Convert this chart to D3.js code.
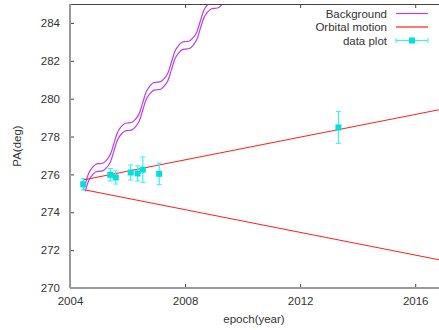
<!DOCTYPE html>
<html>
<head>
<meta charset="utf-8">
<script src="https://cdn.jsdelivr.net/npm/d3@7"></script>
<style>
  body { margin: 0; background: #fff; }
  svg text { font-family: "Liberation Sans", Arial, sans-serif; fill: #333; }
</style>
</head>
<body>
<svg id="chart"></svg>
<script>
// observations (epoch, position angle, error)
var obsYear = [2004.46, 2005.40, 2005.59, 2006.11, 2006.35, 2006.53, 2007.10, 2013.33];
var obsPA   = [275.48, 275.98, 275.84, 276.10, 276.05, 276.25, 276.03, 278.48];
var obsErr  = [0.30, 0.33, 0.35, 0.40, 0.40, 0.67, 0.57, 0.84];

// orbital motion limits (straight lines)
var orbitUpper = [[2004.45, 275.70], [2017, 279.47]];
var orbitLower = [[2004.45, 275.20], [2017, 271.44]];

// background-star tracks
var bgYears1 = [2004.46, 2004.53, 2004.655, 2004.78, 2004.905, 2005.03, 2005.155, 2005.28, 2005.405,
  2005.53, 2005.655, 2005.78, 2005.905, 2006.03, 2006.155, 2006.28, 2006.405, 2006.53, 2006.655,
  2006.78, 2006.905, 2007.03, 2007.155, 2007.28, 2007.405, 2007.53, 2007.655, 2007.78, 2007.905,
  2008.03, 2008.155, 2008.28, 2008.405, 2008.53, 2008.655, 2008.78, 2008.905, 2009.03];
var bgPA1 = [275.20, 275.50, 276.08, 276.37, 276.54, 276.57, 276.60, 276.77, 277.06,
  277.65, 278.23, 278.52, 278.69, 278.72, 278.75, 278.92, 279.21, 279.80, 280.38,
  280.67, 280.84, 280.87, 280.90, 281.07, 281.36, 281.95, 282.53, 282.82, 282.99,
  283.02, 283.05, 283.22, 283.51, 284.10, 284.68, 284.97, 285.14, 285.17];

var bgYears2 = [2004.53, 2004.655, 2004.78, 2004.905, 2005.03, 2005.155, 2005.28, 2005.405,
  2005.53, 2005.655, 2005.78, 2005.905, 2006.03, 2006.155, 2006.28, 2006.405, 2006.53, 2006.655,
  2006.78, 2006.905, 2007.03, 2007.155, 2007.28, 2007.405, 2007.53, 2007.655, 2007.78, 2007.905,
  2008.03, 2008.155, 2008.28, 2008.405, 2008.53, 2008.655, 2008.78, 2008.905, 2009.03, 2009.155,
  2009.28, 2009.405, 2009.53];
var bgPA2 = [275.10, 275.68, 275.97, 276.14, 276.17, 276.20, 276.37, 276.66,
  277.25, 277.83, 278.12, 278.29, 278.32, 278.35, 278.52, 278.81, 279.40, 279.98,
  280.27, 280.44, 280.47, 280.50, 280.67, 280.96, 281.55, 282.13, 282.42, 282.59,
  282.62, 282.65, 282.82, 283.11, 283.70, 284.28, 284.57, 284.74, 284.77, 284.80,
  284.97, 285.26, 285.85];

var xTicks = [2004, 2008, 2012, 2016];
var yTicks = [270, 272, 274, 276, 278, 280, 282, 284];

var width = 439, height = 330;
var plotLeft = 70, plotTop = 4, plotRight = 444, plotBottom = 288;

var purple = "#b93cf5", red = "#ff2020", cyan = "#00dede", cyanBar = "#3cf0f0";

var svg = d3.select("#chart").attr("width", width).attr("height", height);

var x = d3.scaleLinear().domain([2004, 2017]).range([plotLeft, plotRight]);
var y = d3.scaleLinear().domain([270, 285]).range([plotBottom, plotTop]);

svg.append("clipPath").attr("id", "plotclip")
    .append("rect")
    .attr("x", plotLeft).attr("y", plotTop)
    .attr("width", plotRight - plotLeft).attr("height", plotBottom - plotTop);

var plot = svg.append("g").attr("clip-path", "url(#plotclip)");

var line = d3.line().x(d => x(d[0])).y(d => y(d[1]));
var smooth = d3.line().x(d => x(d[0])).y(d => y(d[1])).curve(d3.curveCatmullRom);

// background tracks
[[bgYears1, bgPA1], [bgYears2, bgPA2]].forEach(function (s) {
    plot.append("path")
        .attr("d", smooth(s[0].map((t, i) => [t, s[1][i]])))
        .attr("fill", "none")
        .attr("stroke", purple)
        .attr("stroke-width", 1.2);
});

// orbital motion
[orbitUpper, orbitLower].forEach(function (s) {
    plot.append("path")
        .attr("d", line(s))
        .attr("fill", "none")
        .attr("stroke", red)
        .attr("stroke-width", 1.1);
});

// data points with error bars
var pts = obsYear.map((t, i) => ({ t: t, pa: obsPA[i], e: obsErr[i] }));
var g = plot.selectAll(".pt").data(pts).enter().append("g").classed("pt", true);
g.append("line")
    .attr("x1", d => x(d.t)).attr("x2", d => x(d.t))
    .attr("y1", d => y(d.pa - d.e)).attr("y2", d => y(d.pa + d.e))
    .attr("stroke", cyanBar).attr("stroke-width", 1.2);
g.append("line")
    .attr("x1", d => x(d.t) - 2.5).attr("x2", d => x(d.t) + 2.5)
    .attr("y1", d => y(d.pa - d.e)).attr("y2", d => y(d.pa - d.e))
    .attr("stroke", cyanBar).attr("stroke-width", 1);
g.append("line")
    .attr("x1", d => x(d.t) - 2.5).attr("x2", d => x(d.t) + 2.5)
    .attr("y1", d => y(d.pa + d.e)).attr("y2", d => y(d.pa + d.e))
    .attr("stroke", cyanBar).attr("stroke-width", 1);
g.append("rect")
    .attr("x", d => x(d.t) - 3).attr("y", d => y(d.pa) - 3)
    .attr("width", 6).attr("height", 6)
    .attr("fill", cyan);

// axes
var yAxis = d3.axisLeft(y).tickValues(yTicks).tickSizeInner(-4).tickSizeOuter(0).tickPadding(10);
var xAxis = d3.axisBottom(x).tickValues(xTicks).tickSizeInner(-4).tickSizeOuter(0).tickPadding(9)
    .tickFormat(d3.format("d"));
var xTop = d3.axisTop(x).tickValues(xTicks.slice(1)).tickSizeInner(-4).tickSizeOuter(0).tickFormat("");

function style(sel) {
    sel.select(".domain").remove();
    sel.selectAll(".tick line").attr("stroke", "#444");
    sel.selectAll("text").style("font-size", "11.5px").attr("fill", "#333");
}
svg.append("g").attr("transform", "translate(" + plotLeft + ",0)").call(yAxis).call(style);
svg.append("g").attr("transform", "translate(0," + plotBottom + ")").call(xAxis).call(style);
svg.append("g").attr("transform", "translate(0," + plotTop + ")").call(xTop).call(style);

// border
svg.append("line").attr("x1", plotLeft).attr("x2", plotRight).attr("y1", plotTop + 0.5).attr("y2", plotTop + 0.5)
    .attr("stroke", "#444").attr("stroke-width", 1);
svg.append("line").attr("x1", plotLeft).attr("x2", plotLeft).attr("y1", plotTop).attr("y2", plotBottom)
    .attr("stroke", "#999").attr("stroke-width", 2);
svg.append("line").attr("x1", plotLeft).attr("x2", plotRight).attr("y1", plotBottom).attr("y2", plotBottom)
    .attr("stroke", "#999").attr("stroke-width", 2);

// axis titles
svg.append("text")
    .attr("transform", "translate(21," + ((plotTop + plotBottom) / 2) + ") rotate(-90)")
    .attr("text-anchor", "middle")
    .style("font-size", "11.5px")
    .text("PA(deg)");
svg.append("text")
    .attr("x", 254).attr("y", 323)
    .attr("text-anchor", "middle")
    .style("font-size", "11.5px")
    .text("epoch(year)");

// legend
var legendNames = ["Background", "Orbital motion", "data plot"];
var legendColors = [purple, red, cyanBar];
var leg = svg.append("g").selectAll("g").data(legendNames).enter().append("g")
    .attr("transform", (d, i) => "translate(0," + (13.5 + i * 13.5) + ")");
leg.append("text")
    .attr("x", 387).attr("y", 4)
    .attr("text-anchor", "end")
    .style("font-size", "11.5px")
    .text(d => d);
leg.append("line")
    .attr("x1", 396).attr("x2", 428).attr("y1", 0).attr("y2", 0)
    .attr("stroke", (d, i) => legendColors[i]).attr("stroke-width", 1.2);
var last = leg.filter((d, i) => i === 2);
last.append("line").attr("x1", 396).attr("x2", 396).attr("y1", -2.5).attr("y2", 2.5)
    .attr("stroke", cyanBar);
last.append("line").attr("x1", 428).attr("x2", 428).attr("y1", -2.5).attr("y2", 2.5)
    .attr("stroke", cyanBar);
last.append("rect").attr("x", 409).attr("y", -3).attr("width", 6).attr("height", 6).attr("fill", cyan);
</script>
</body>
</html>
